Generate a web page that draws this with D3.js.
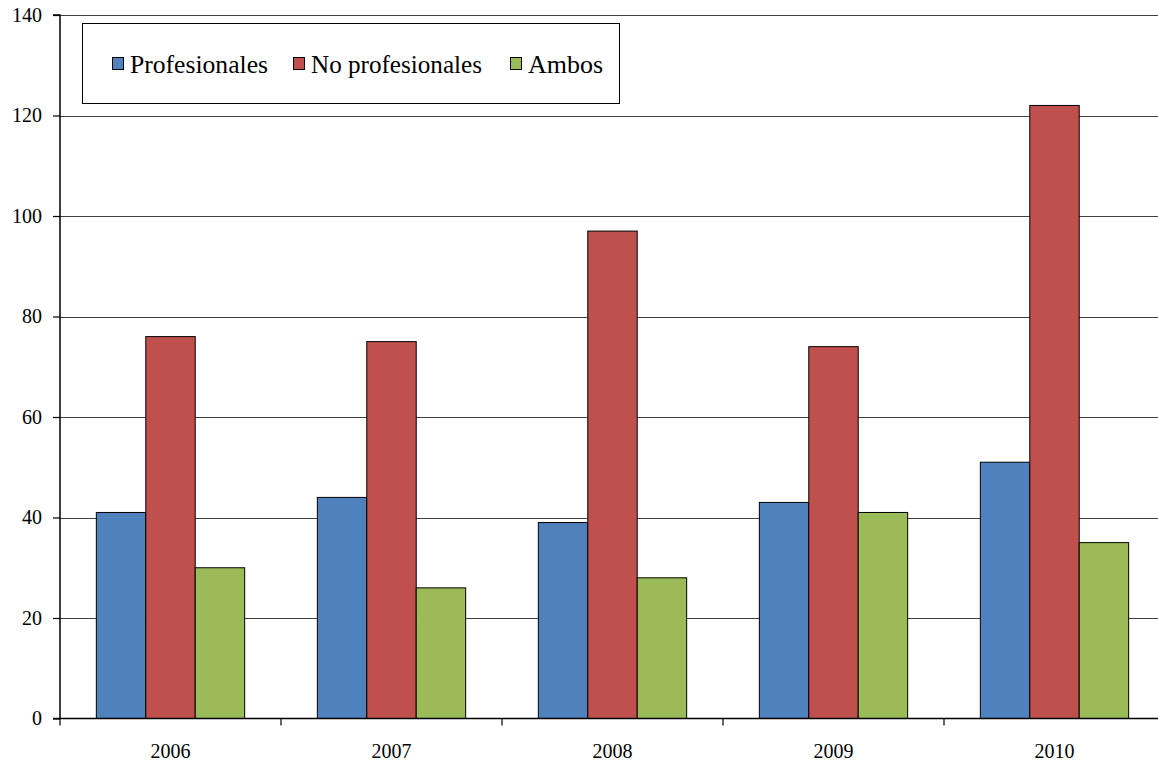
<!DOCTYPE html>
<html>
<head>
<meta charset="utf-8">
<script src="https://cdn.jsdelivr.net/npm/d3@7"></script>
<style>
  html, body { margin: 0; padding: 0; background: #fff; }
  svg { display: block; }
</style>
</head>
<body>
<svg id="chart" width="1158" height="762"></svg>
<script>
// Annual counts by group
const years = ["2006", "2007", "2008", "2009", "2010"];
const seriesNames = ["Profesionales", "No profesionales", "Ambos"];
const profesionales = [41, 44, 39, 43, 51];
const noProfesionales = [76, 75, 97, 74, 122];
const ambos = [30, 26, 28, 41, 35];
const yTicks = [0, 20, 40, 60, 80, 100, 120, 140];
const colors = ["#4F81BD", "#C0504D", "#9BBB59"];

const seriesValues = [profesionales, noProfesionales, ambos];
const SERIF = "'Liberation Serif', 'Times New Roman', serif";

const svg = d3.select("#chart");
const margin = { left: 60, top: 15, right: -7, bottom: 43 };
const W = 1158, H = 762;
const x0 = margin.left, x1 = W - margin.right;
const yTop = margin.top, yBot = H - margin.bottom - 0.5;

const x = d3.scaleBand().domain(years).range([x0, x1]).paddingInner(0).paddingOuter(0);
const xs = d3.scaleBand().domain(d3.range(3))
  .range([0, x.bandwidth()]).paddingInner(0).paddingOuter(0.735);
const y = d3.scaleLinear().domain([0, 140]).range([yBot, yTop]);

// horizontal grid lines
svg.append("g").selectAll("line")
  .data(yTicks.filter(d => d > 0))
  .join("line")
  .attr("x1", x0).attr("x2", W)
  .attr("y1", d => Math.round(y(d)) + 0.5).attr("y2", d => Math.round(y(d)) + 0.5)
  .attr("stroke", "#404040").attr("stroke-width", 1.2);

// bars
const groups = svg.append("g").selectAll("g")
  .data(years)
  .join("g")
  .attr("transform", d => `translate(${x(d)},0)`);

groups.selectAll("rect")
  .data((d, i) => seriesValues.map((vals, s) => ({ s, v: vals[i] })))
  .join("rect")
  .attr("x", d => xs(d.s))
  .attr("width", xs.bandwidth())
  .attr("y", d => y(d.v))
  .attr("height", d => y(0) - y(d.v))
  .attr("fill", d => colors[d.s])
  .attr("stroke", "#000")
  .attr("stroke-width", 1);

// y axis
const yAxis = d3.axisLeft(y).tickValues(yTicks).tickSize(7).tickPadding(11).tickFormat(d3.format("d"));
const gy = svg.append("g").attr("transform", `translate(${x0},0)`).call(yAxis);
gy.attr("font-family", SERIF).attr("font-size", 20);
gy.select(".domain").attr("stroke", "#000").attr("stroke-width", 1.5).attr("d", `M-7,${yTop}H0V${yBot}H-7`);
gy.selectAll(".tick line").attr("stroke", "#000").attr("stroke-width", 1.2);
gy.selectAll(".tick text").attr("fill", "#000").style("font-family", SERIF).style("font-size", "20px");

// x axis
const gx = svg.append("g").attr("transform", `translate(0,${yBot})`);
gx.append("line").attr("x1", x0).attr("x2", W).attr("y1", 0).attr("y2", 0)
  .attr("stroke", "#000").attr("stroke-width", 1.5);
const boundaries = years.map(d => x(d)).concat([x1]);
gx.selectAll("line.tk").data(boundaries).join("line").attr("class", "tk")
  .attr("x1", d => d).attr("x2", d => d).attr("y1", 0).attr("y2", 7)
  .attr("stroke", "#000").attr("stroke-width", 1.2);
gx.selectAll("text").data(years).join("text")
  .attr("x", d => x(d) + x.bandwidth() / 2)
  .attr("y", 39)
  .attr("text-anchor", "middle")
  .style("font-family", SERIF)
  .style("font-size", "20px")
  .text(d => d);

// legend
const legend = svg.append("g");
legend.append("rect")
  .attr("x", 82.5).attr("y", 23.5).attr("width", 537).attr("height", 80)
  .attr("fill", "#fff").attr("stroke", "#000").attr("stroke-width", 1);
const legendX = [112, 293, 510];
const legendTextWidth = [138, 171, 75];
seriesNames.forEach((name, i) => {
  legend.append("rect")
    .attr("x", legendX[i] + 0.5).attr("y", 57.5).attr("width", 11).attr("height", 12)
    .attr("fill", colors[i]).attr("stroke", "#000").attr("stroke-width", 1);
  legend.append("text")
    .attr("x", legendX[i] + 18).attr("y", 73)
    .attr("textLength", legendTextWidth[i])
    .attr("lengthAdjust", "spacingAndGlyphs")
    .style("font-family", SERIF)
    .style("font-size", "26px")
    .text(name);
});
</script>
</body>
</html>
